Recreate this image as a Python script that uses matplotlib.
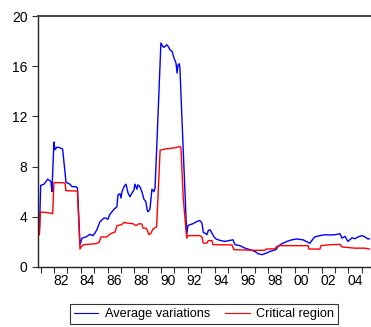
import matplotlib
matplotlib.use("Agg")
import matplotlib.pyplot as plt

plt.rcParams['font.family'] = ['Liberation Sans', 'DejaVu Sans']

# Average variations (decimal year, value)
avg_years = [1980.90, 1981.00, 1981.25, 1981.52, 1981.77, 1981.84, 1981.99, 1982.07, 1982.22, 1982.44,
             1982.64, 1982.89, 1982.97, 1983.19, 1983.34, 1983.64, 1983.75, 1983.94, 1984.09, 1984.39,
             1984.69, 1984.91, 1985.06, 1985.21, 1985.43, 1985.73, 1985.88, 1986.03, 1986.18, 1986.48,
             1986.70, 1986.78, 1986.93, 1987.00, 1987.08, 1987.23, 1987.38, 1987.53, 1987.68, 1987.83,
             1987.98, 1988.05, 1988.20, 1988.27, 1988.42, 1988.57, 1988.72, 1988.87, 1988.95, 1989.02,
             1989.17, 1989.32, 1989.47, 1989.55, 1989.67, 1989.99, 1990.12, 1990.22, 1990.42, 1990.52,
             1990.67, 1990.82, 1990.97, 1991.12, 1991.20, 1991.27, 1991.36, 1991.41, 1991.66, 1991.92,
             1992.01, 1992.16, 1992.39, 1992.69, 1992.91, 1993.06, 1993.16, 1993.28, 1993.43, 1993.53,
             1993.66, 1993.81, 1993.96, 1994.11, 1994.41, 1994.78, 1995.16, 1995.38, 1995.53, 1995.90,
             1996.28, 1996.65, 1997.02, 1997.25, 1997.55, 1997.85, 1998.15, 1998.37, 1998.60, 1998.74,
             1999.04, 1999.42, 1999.79, 2000.16, 2000.61, 2000.99, 2001.13, 2001.36, 2001.51, 2001.88,
             2002.26, 2002.63, 2003.00, 2003.38, 2003.53, 2003.75, 2003.98, 2004.28, 2004.50, 2004.73,
             2005.03, 2005.25, 2005.47, 2005.58]
avg_values = [2.6, 6.5, 6.6, 7.0, 6.8, 6.0, 9.96, 9.35, 9.55, 9.5,
              9.4, 6.8, 6.7, 6.6, 6.4, 6.4, 6.3, 1.78, 2.3, 2.4,
              2.6, 2.5, 2.7, 3.0, 3.6, 3.9, 3.9, 3.8, 4.2, 4.6,
              4.8, 5.76, 5.84, 5.5, 6.0, 6.4, 6.6, 5.9, 5.6, 5.9,
              6.15, 6.6, 6.2, 6.55, 6.4, 6.0, 5.4, 5.2, 4.6, 4.4,
              4.6, 6.2, 6.0, 6.3, 9.3, 17.85, 17.6, 17.5, 17.7, 17.6,
              17.3, 17.2, 16.65, 16.25, 15.45, 16.1, 16.2, 15.9, 9.3, 2.6,
              3.3, 3.37, 3.45, 3.63, 3.7, 3.5, 2.76, 2.7, 2.57, 2.9,
              2.97, 2.7, 2.4, 2.23, 2.12, 2.04, 2.12, 2.17, 1.78, 1.7,
              1.5, 1.38, 1.24, 1.06, 0.98, 1.1, 1.24, 1.32, 1.38, 1.64,
              1.86, 2.04, 2.17, 2.23, 2.17, 1.96, 1.9, 2.23, 2.4, 2.5,
              2.57, 2.55, 2.57, 2.65, 2.3, 2.44, 2.04, 2.33, 2.25, 2.4,
              2.5, 2.4, 2.23, 2.25]

# Critical region (decimal year, value)
crit_years = [1980.90, 1980.98, 1981.32, 1981.70, 1981.90, 1981.99, 1982.44, 1982.82, 1982.89, 1983.75,
              1983.94, 1984.04, 1984.24, 1984.84, 1985.13, 1985.36, 1985.51, 1985.96, 1986.11, 1986.33,
              1986.56, 1986.70, 1987.06, 1987.23, 1987.45, 1987.90, 1988.12, 1988.35, 1988.57, 1988.65,
              1988.87, 1988.95, 1989.10, 1989.25, 1989.40, 1989.67, 1989.93, 1990.29, 1990.67, 1991.04,
              1991.41, 1991.49, 1991.66, 1991.92, 1992.01, 1992.91, 1993.06, 1993.16, 1993.43, 1993.53,
              1993.81, 1993.89, 1995.30, 1995.45, 1997.02, 1997.77, 1997.85, 1998.52, 1998.67, 1998.89,
              2000.99, 2001.06, 2001.88, 2001.96, 2002.63, 2003.38, 2003.53, 2004.50, 2005.25, 2005.58]
crit_values = [2.57, 4.38, 4.35, 4.3, 4.25, 6.72, 6.72, 6.7, 6.08, 6.05,
               1.43, 1.64, 1.78, 1.83, 1.86, 1.96, 2.39, 2.4, 2.57, 2.7,
               2.79, 3.29, 3.37, 3.55, 3.5, 3.45, 3.3, 3.45, 3.42, 3.1,
               3.1, 2.97, 2.57, 2.7, 3.03, 3.2, 9.3, 9.4, 9.45, 9.5,
               9.6, 9.5, 5.5, 2.3, 2.5, 2.5, 2.4, 1.9, 1.9, 2.1,
               2.1, 1.78, 1.76, 1.38, 1.33, 1.33, 1.43, 1.45, 1.64, 1.7,
               1.7, 1.43, 1.43, 1.7, 1.78, 1.8, 1.6, 1.5, 1.5, 1.43]

years = list(range(1981, 2006))
label_years = list(range(1982, 2005, 2))
y_ticks = [0, 4, 8, 12, 16, 20]

fig = plt.figure(figsize=(3.71, 3.27), dpi=100)
ax = fig.add_axes([38 / 371, 60 / 327, 333 / 371, 251 / 327])

ax.plot(avg_years, avg_values, color='#0000ff', lw=1.0, label='Average variations')
ax.plot(crit_years, crit_values, color='#ff0000', lw=1.0, label='Critical region')

ax.set_xlim(1980.80, 2005.70)
ax.set_ylim(0, 20)

# year ticks on the boundaries, labels centred inside each year
ax.set_xticks(years)
ax.set_xticklabels([])
ax.set_xticks([y + 0.5 for y in label_years], minor=True)
ax.set_xticklabels(['%02d' % (y % 100) for y in label_years], minor=True)
ax.tick_params(axis='x', which='major', direction='out', length=4, width=0.8, color='#333333')
ax.tick_params(axis='x', which='minor', length=0, labelsize=10, pad=5)

ax.set_yticks(y_ticks)
ax.set_yticklabels([str(v) for v in y_ticks])
ax.tick_params(axis='y', direction='out', length=4, width=0.8, labelsize=10, color='#333333')

ax.spines['right'].set_visible(False)
for side in ['left', 'bottom']:
    ax.spines[side].set_linewidth(1.0)
    ax.spines[side].set_color('#222222')
ax.spines['top'].set_linewidth(1.4)
ax.spines['top'].set_color('#444444')

leg = fig.legend(loc='center', bbox_to_anchor=(204 / 371, 1 - 314 / 327), ncol=2,
                 fontsize=9.2, frameon=True, fancybox=False, handlelength=1.9,
                 columnspacing=1.2, handletextpad=0.5, borderpad=0.35)
leg.get_frame().set_edgecolor('black')
leg.get_frame().set_linewidth(0.8)
for line in leg.get_lines():
    line.set_linewidth(0.8)

fig.savefig('out.png', dpi=100)
